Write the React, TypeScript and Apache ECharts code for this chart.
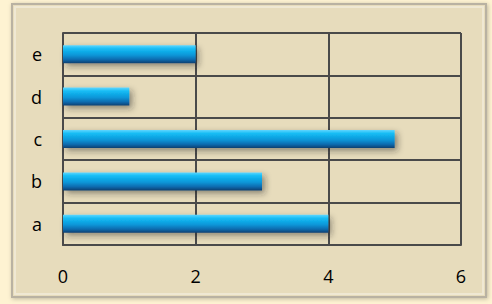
import React, { useEffect, useRef } from "react";
import * as echarts from "echarts";

const categories = ["a", "b", "c", "d", "e"];
const values = [4, 3, 5, 1, 2];
const xTicks = [0, 2, 4, 6];

export default function App() {
  const ref = useRef<HTMLDivElement>(null);
  useEffect(() => {
    if (!ref.current) return;
    const chart = echarts.init(ref.current, null, { renderer: "svg" });
    chart.setOption({
      animation: false,
      backgroundColor: "#FEF3D2",
      graphic: [
        {
          type: "rect",
          z: -10,
          shape: { x: 12, y: 4, width: 474, height: 293 },
          style: {
            fill: "#E7DCBC",
            stroke: "#B9B2A2",
            lineWidth: 2,
            shadowBlur: 4,
            shadowColor: "rgba(0,0,0,0.25)",
            shadowOffsetX: 1,
            shadowOffsetY: 1,
          },
        },
        {
          type: "rect",
          z: -9,
          shape: { x: 15, y: 7, width: 468, height: 287 },
          style: { fill: "none", stroke: "rgba(255,255,255,0.35)", lineWidth: 2 },
        },
      ],
      grid: { left: 63, top: 33, width: 398, height: 212, containLabel: false },
      xAxis: {
        type: "value",
        min: xTicks[0],
        max: xTicks[xTicks.length - 1],
        interval: 2,
        axisLine: { show: true, lineStyle: { color: "#4a4a4a", width: 2 } },
        axisTick: { show: false },
        splitLine: { show: true, lineStyle: { color: "#4a4a4a", width: 2 } },
        axisLabel: {
          fontFamily: "Open Sans",
          fontSize: 18,
          color: "#000",
          margin: 22,
        },
      },
      yAxis: {
        type: "category",
        data: categories,
        axisLine: { show: true, lineStyle: { color: "#4a4a4a", width: 2 } },
        axisTick: { show: false },
        splitLine: { show: true, lineStyle: { color: "#4a4a4a", width: 2 } },
        axisLabel: {
          fontFamily: "Open Sans",
          fontSize: 18,
          color: "#000",
          margin: 21,
        },
      },
      series: [
        {
          type: "bar",
          data: values,
          barWidth: 18,
          itemStyle: {
            color: new echarts.graphic.LinearGradient(0, 0, 0, 1, [
              { offset: 0, color: "#5ED6FF" },
              { offset: 0.2, color: "#14BCF4" },
              { offset: 0.55, color: "#0D96D8" },
              { offset: 0.8, color: "#0A6AAE" },
              { offset: 1, color: "#093F70" },
            ]),
            shadowBlur: 6,
            shadowColor: "rgba(40,40,40,0.45)",
            shadowOffsetX: 3,
            shadowOffsetY: 3,
          },
        },
      ],
    });
    return () => chart.dispose();
  }, []);
  return (
    <div
      ref={ref}
      style={{ position: "fixed", left: 0, top: 0, width: 492, height: 304 }}
    />
  );
}
